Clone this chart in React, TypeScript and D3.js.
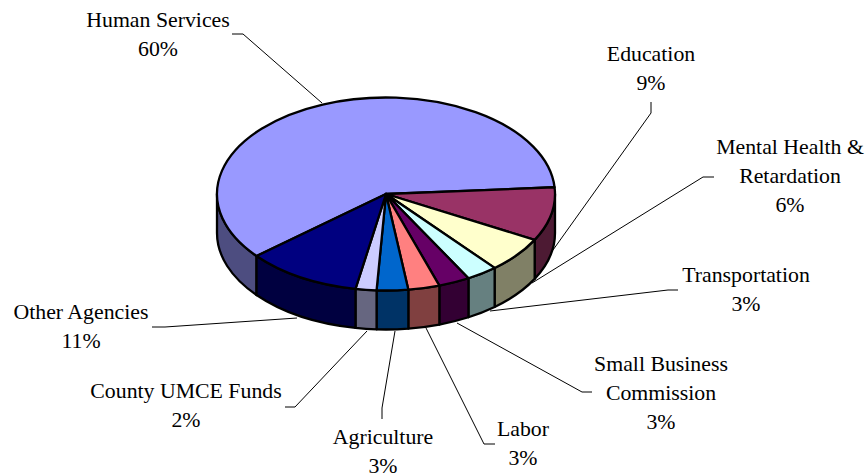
import React from "react";
import * as d3 from "d3";

const categories = ["Human Services", "Education", "Mental Health & Retardation", "Transportation", "Small Business Commission", "Labor", "Agriculture", "County UMCE Funds", "Other Agencies"];
const shares = [60, 9, 6, 3, 3, 3, 3, 2, 11];
const topColors = ["#9999FF", "#993366", "#FFFFCC", "#CCFFFF", "#660066", "#FF8080", "#0066CC", "#CCCCFF", "#000080"];
const sideColors = ["#4D4D80", "#4D1A33", "#808066", "#668080", "#330033", "#804040", "#003366", "#666680", "#000040"];
const labelLines = [["Human Services", "60%"], ["Education", "9%"], ["Mental Health &", "Retardation", "6%"], ["Transportation", "3%"], ["Small Business", "Commission", "3%"], ["Labor", "3%"], ["Agriculture", "3%"], ["County UMCE Funds", "2%"], ["Other Agencies", "11%"]];
const labelAnchors = [[158, 27], [651, 61], [790, 154], [746, 282], [661, 371], [523, 436], [383, 444], [186, 398], [81, 319]];
const leaders = [
  [[232, 34], [243, 34], [322, 103]],
  [[651, 102], [651, 113], [553, 250]],
  [[714, 177], [703, 177], [532, 283]],
  [[678, 290], [668, 290], [490, 311]],
  [[592, 392], [582, 392], [457, 323]],
  [[495, 444], [484, 444], [426, 328]],
  [[382, 419], [382, 408], [395, 331]],
  [[285, 407], [295, 407], [367, 331]],
  [[152, 327], [165, 327], [297, 318]],
];

const cx = 386, cy = 194, rx = 169, ry = 96.5, depth = 39;
const startAngle = (230 / 180) * Math.PI;

const arcs = d3.pie<number>().sort(null).startAngle(startAngle).endAngle(startAngle + 2 * Math.PI)(shares);
const px = (a: number) => cx + rx * Math.sin(a);
const py = (a: number) => cy - ry * Math.cos(a);
const large = (a0: number, a1: number) => (a1 - a0 > Math.PI ? 1 : 0);

function topPath(a0: number, a1: number) {
  return `M${cx},${cy}L${px(a0)},${py(a0)}A${rx},${ry} 0 ${large(a0, a1)} 1 ${px(a1)},${py(a1)}Z`;
}
function sidePath(a0: number, a1: number) {
  return `M${px(a0)},${py(a0)}A${rx},${ry} 0 ${large(a0, a1)} 1 ${px(a1)},${py(a1)}L${px(a1)},${py(a1) + depth}A${rx},${ry} 0 ${large(a0, a1)} 0 ${px(a0)},${py(a0) + depth}Z`;
}
// the visible wall runs from east (90deg) to west (270deg), clockwise from north
function visibleSpans(a0: number, a1: number) {
  const spans: [number, number][] = [];
  const lo = Math.PI / 2, hi = (3 * Math.PI) / 2;
  for (const k of [0, 2 * Math.PI]) {
    const s = Math.max(a0, lo + k), e = Math.min(a1, hi + k);
    if (e > s) spans.push([s, e]);
  }
  return spans;
}

const lineGen = d3.line();

export default function App() {
  return (
    <svg width={867} height={474} style={{ position: "absolute", left: 0, top: 0, background: "#fff" }} fontFamily="'Liberation Serif', serif" fontSize={21.8}>
      {leaders.map((pts, i) => (
        <path key={i} d={lineGen(pts as [number, number][]) || ""} fill="none" stroke="#000" strokeWidth={1} />
      ))}
      {arcs.map((d, i) =>
        visibleSpans(d.startAngle, d.endAngle).map(([s, e], j) => (
          <path key={`${i}-${j}`} d={sidePath(s, e)} fill={sideColors[i]} stroke="#000" strokeWidth={2.3} strokeLinejoin="round" />
        ))
      )}
      {arcs.map((d, i) => (
        <path key={i} d={topPath(d.startAngle, d.endAngle)} fill={topColors[i]} stroke="#000" strokeWidth={2.3} strokeLinejoin="round" />
      ))}
      {labelLines.map((lines, i) => (
        <text key={categories[i]} textAnchor="middle" fill="#000">
          {lines.map((t, j) => (
            <tspan key={j} x={labelAnchors[i][0]} y={labelAnchors[i][1] + j * 29.2}>{t}</tspan>
          ))}
        </text>
      ))}
    </svg>
  );
}
